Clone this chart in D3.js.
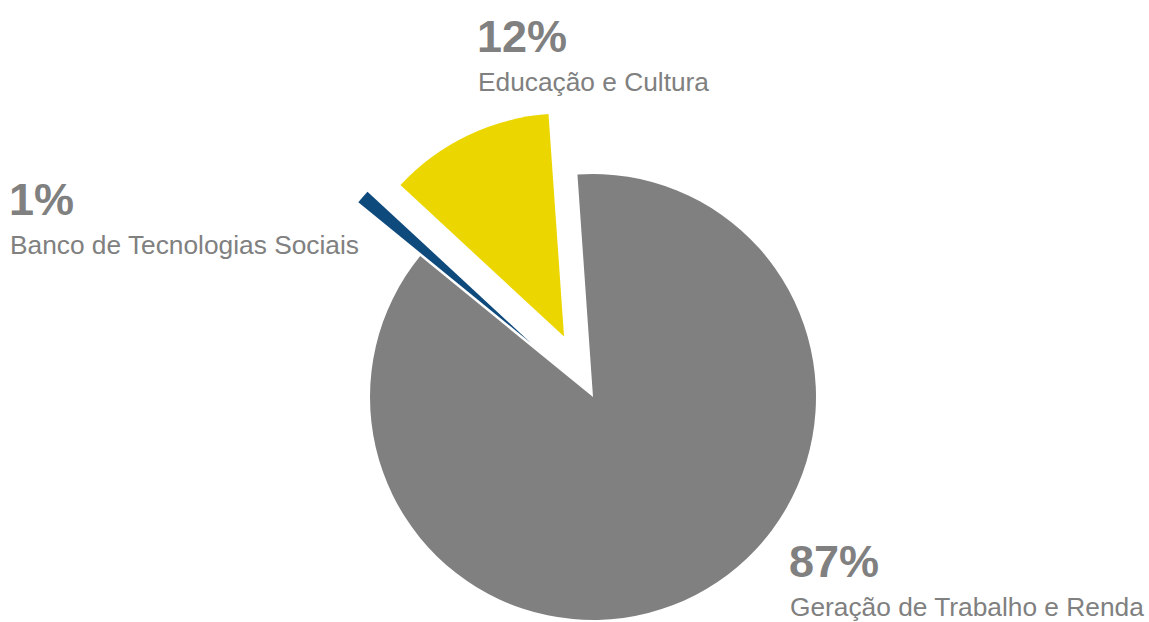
<!DOCTYPE html>
<html>
<head>
<meta charset="utf-8">
<script src="https://cdn.jsdelivr.net/npm/d3@7"></script>
<style>
  html, body { margin: 0; padding: 0; background: #fff; }
  svg { display: block; }
</style>
</head>
<body>
<div id="chart"></div>
<script>
// data
const categories = ["Geração de Trabalho e Renda", "Banco de Tecnologias Sociais", "Educação e Cultura"];
const shares = [87, 1, 12];
const pctLabels = ["87%", "1%", "12%"];

// SVG size
const width = 1149;
const height = 622;
const cx = 593, cy = 397; // pie centre
const radius = 223;
const startDeg = -4; // first slice starts just left of 12 o'clock

const colors = d3.scaleOrdinal()
  .domain(categories)
  .range(["#808080", "#0f4a7c", "#ecd600"]);

// how far each slice is pulled out of the pie
const explode = d3.scaleOrdinal()
  .domain(categories)
  .range([0, 82, 67]);

// where each text block sits (left x, baseline of the % line)
const labelPos = d3.scaleOrdinal()
  .domain(categories)
  .range([[789, 577], [9, 215], [477, 52]]);

const svg = d3.select("#chart")
  .append("svg")
  .attr("width", width)
  .attr("height", height);

const table = categories.map((c, i) => ({ name: c, value: shares[i], pct: pctLabels[i] }));

const pie = d3.pie()
  .sort(null)
  .value(d => d.value)
  .startAngle(startDeg * Math.PI / 180)
  .endAngle(startDeg * Math.PI / 180 + 2 * Math.PI);

const arc = d3.arc()
  .innerRadius(0)
  .outerRadius(radius);

const slices = svg.append("g")
  .attr("transform", `translate(${cx},${cy})`)
  .selectAll("path")
  .data(pie(table))
  .enter()
  .append("path")
  .attr("d", arc)
  .attr("fill", d => colors(d.data.name))
  .attr("transform", d => {
    const mid = (d.startAngle + d.endAngle) / 2;
    const off = explode(d.data.name);
    return `translate(${off * Math.sin(mid)},${-off * Math.cos(mid)})`;
  });

// Labels
const labels = svg.append("g")
  .selectAll("g")
  .data(table)
  .enter()
  .append("g")
  .attr("transform", d => `translate(${labelPos(d.name)[0]},${labelPos(d.name)[1]})`);

labels.append("text")
  .attr("x", 0)
  .attr("y", 0)
  .style("font-family", "Liberation Sans, Arial, sans-serif")
  .style("font-weight", "bold")
  .style("font-size", "45px")
  .attr("fill", "#808080")
  .text(d => d.pct);

labels.append("text")
  .attr("x", 1)
  .attr("y", 39)
  .style("font-family", "Liberation Sans, Arial, sans-serif")
  .style("font-size", "26.3px")
  .attr("fill", "#808080")
  .text(d => d.name);
</script>
</body>
</html>
